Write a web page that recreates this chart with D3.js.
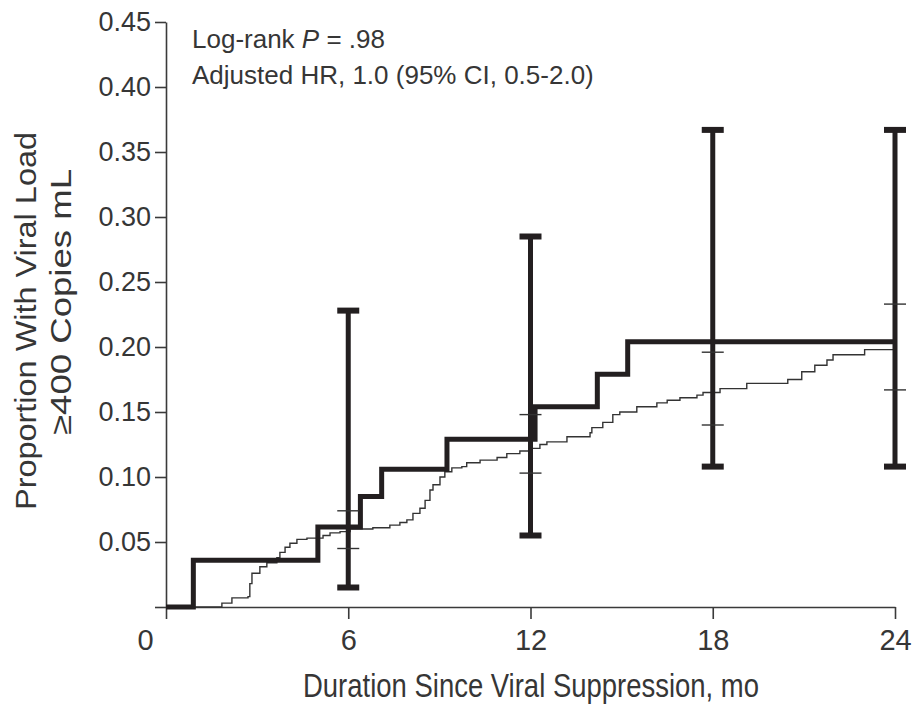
<!DOCTYPE html>
<html>
<head>
<meta charset="utf-8">
<script src="https://cdn.jsdelivr.net/npm/d3@7"></script>
<style>
body { margin: 0; background: #fff; }
text { font-family: "Liberation Sans", Arial, sans-serif; fill: #363636; }
</style>
</head>
<body>
<svg id="graph"></svg>
<script>
// axis ticks
var xTicks = [0, 6, 12, 18, 24]
var yTicks = [0, 0.05, 0.10, 0.15, 0.20, 0.25, 0.30, 0.35, 0.40, 0.45]

// thick group: step times (mo) and cumulative proportion
var thickTimes = [0, 0.9, 5.0, 6.4, 7.1, 9.25, 12.15, 14.2, 15.2, 24]
var thickProps = [0, 0.036, 0.0615, 0.085, 0.106, 0.129, 0.154, 0.179, 0.204, 0.204]

// thin group: step times and proportion
var thinTimes = [0, 1.84, 2.17, 2.7, 2.76, 2.83, 3.09, 3.32, 3.65, 3.75, 3.92, 4.08, 4.31, 4.64, 5.17, 5.4, 5.73, 6.06, 6.81, 7.37, 7.7, 7.93, 8.13, 8.36, 8.53, 8.69, 8.79, 9.02, 9.18, 9.41, 9.74, 9.9, 10.34, 10.9, 11.22, 11.65, 11.98, 12.31, 12.54, 13.2, 13.96, 14.02, 14.38, 14.71, 14.94, 15.5, 16.16, 16.5, 16.92, 17.48, 17.68, 18.24, 19.12, 20.47, 20.93, 21.36, 21.76, 21.96, 23.0, 24]
var thinProps = [0, 0.003, 0.007, 0.008, 0.018, 0.026, 0.031, 0.034, 0.038, 0.042, 0.046, 0.049, 0.052, 0.053, 0.055, 0.057, 0.058, 0.060, 0.061, 0.063, 0.065, 0.067, 0.072, 0.076, 0.082, 0.090, 0.094, 0.100, 0.104, 0.107, 0.108, 0.111, 0.113, 0.115, 0.118, 0.120, 0.122, 0.125, 0.127, 0.131, 0.134, 0.138, 0.142, 0.148, 0.150, 0.154, 0.157, 0.159, 0.161, 0.163, 0.165, 0.168, 0.172, 0.175, 0.181, 0.186, 0.190, 0.194, 0.198, 0.198]

// confidence intervals at 6, 12, 18, 24 mo
var ciMonths = [6, 12, 18, 24]
var thickLow = [0.015, 0.055, 0.108, 0.108]
var thickHigh = [0.228, 0.285, 0.367, 0.367]
var thinLow = [0.045, 0.103, 0.140, 0.167]
var thinHigh = [0.074, 0.148, 0.196, 0.233]

var screen = {width: 913, height: 705}
var svg = d3.select("#graph")
    .attr("width", screen.width)
    .attr("height", screen.height)

var xScale = d3.scaleLinear()
    .domain([0, 24])
    .range([166, 895])

var yScale = d3.scaleLinear()
    .domain([0, 0.45])
    .range([607, 22])

var axisColor = "#3a3a3a"

// x axis
var xAxis = svg.append("g")
    .attr("transform", "translate(0," + yScale(0) + ")")
    .call(d3.axisBottom(xScale).tickValues(xTicks).tickSize(12).tickPadding(10).tickSizeOuter(0))
xAxis.select(".domain").attr("stroke", axisColor).attr("stroke-width", 1.6)
xAxis.selectAll(".tick line").attr("stroke", axisColor).attr("stroke-width", 1.6)
xAxis.selectAll(".tick text")
    .attr("font-size", 29)
    .attr("dx", function(d) { return d === 0 ? -21 : 0 })

// y axis
var yAxis = svg.append("g")
    .attr("transform", "translate(" + xScale(0) + ",0)")
    .call(d3.axisLeft(yScale).tickValues(yTicks).tickSize(11).tickPadding(4).tickSizeOuter(0)
        .tickFormat(function(d) { return d === 0 ? "" : d3.format(".2f")(d) }))
yAxis.select(".domain").attr("stroke", axisColor).attr("stroke-width", 1.6)
yAxis.selectAll(".tick line").attr("stroke", axisColor).attr("stroke-width", 1.6)
yAxis.selectAll(".tick text").attr("font-size", 27)
svg.selectAll(".tick text").style("font-family", "'Liberation Sans', Arial, sans-serif").attr("fill", "#363636")

// axis titles (the original type is tall and narrow)
svg.append("text")
    .attr("x", 531)
    .attr("y", 697)
    .attr("text-anchor", "middle")
    .attr("font-size", 34)
    .attr("textLength", 456)
    .attr("lengthAdjust", "spacingAndGlyphs")
    .text("Duration Since Viral Suppression, mo")

var yTitle = svg.append("g").attr("transform", "rotate(-90)")
yTitle.append("text")
    .attr("x", -321).attr("y", 36)
    .attr("text-anchor", "middle")
    .attr("font-size", 29)
    .attr("textLength", 378)
    .attr("lengthAdjust", "spacingAndGlyphs")
    .text("Proportion With Viral Load")
yTitle.append("text")
    .attr("x", -302).attr("y", 71)
    .attr("text-anchor", "middle")
    .attr("font-size", 29)
    .attr("textLength", 266)
    .attr("lengthAdjust", "spacingAndGlyphs")
    .text("\u2265400 Copies mL")

// annotation
var note = svg.append("text").attr("font-size", 26)
note.append("tspan").attr("x", 192).attr("y", 48).text("Log-rank ")
note.append("tspan").attr("font-style", "italic").text("P")
note.append("tspan").text(" = .98")
svg.append("text").attr("x", 192).attr("y", 84).attr("font-size", 26)
    .text("Adjusted HR, 1.0 (95% CI, 0.5-2.0)")

var stepLine = d3.line()
    .x(function(d) { return xScale(d[0]) })
    .y(function(d) { return yScale(d[1]) })
    .curve(d3.curveStepAfter)

var thinData = thinTimes.map(function(t, i) { return [t, thinProps[i]] })
var thickData = thickTimes.map(function(t, i) { return [t, thickProps[i]] })

svg.append("path")
    .datum(thinData)
    .attr("d", stepLine)
    .attr("fill", "none")
    .attr("stroke", "#333")
    .attr("stroke-width", 1.4)

svg.append("path")
    .datum(thickData)
    .attr("d", stepLine)
    .attr("fill", "none")
    .attr("stroke", "#231f20")
    .attr("stroke-width", 5)

// error bars
var ci = ciMonths.map(function(m, i) {
    return {m: m, lo: thickLow[i], hi: thickHigh[i], tlo: thinLow[i], thi: thinHigh[i]}
})

var bars = svg.selectAll(".ci")
    .data(ci)
    .enter()
    .append("g")
    .attr("class", "ci")

bars.append("line")
    .attr("x1", function(d) { return xScale(d.m) })
    .attr("x2", function(d) { return xScale(d.m) })
    .attr("y1", function(d) { return yScale(d.lo) })
    .attr("y2", function(d) { return yScale(d.hi) })
    .attr("stroke", "#231f20")
    .attr("stroke-width", 5)

bars.selectAll(".cap")
    .data(function(d) { return [{m: d.m, v: d.lo}, {m: d.m, v: d.hi}] })
    .enter()
    .append("line")
    .attr("x1", function(d) { return xScale(d.m) - 11 })
    .attr("x2", function(d) { return xScale(d.m) + 11 })
    .attr("y1", function(d) { return yScale(d.v) })
    .attr("y2", function(d) { return yScale(d.v) })
    .attr("stroke", "#231f20")
    .attr("stroke-width", 6)

bars.selectAll(".tick2")
    .data(function(d) { return [{m: d.m, v: d.tlo}, {m: d.m, v: d.thi}] })
    .enter()
    .append("line")
    .attr("x1", function(d) { return xScale(d.m) - 11 })
    .attr("x2", function(d) { return xScale(d.m) + 11 })
    .attr("y1", function(d) { return yScale(d.v) })
    .attr("y2", function(d) { return yScale(d.v) })
    .attr("stroke", "#333")
    .attr("stroke-width", 1.4)
</script>
</body>
</html>
